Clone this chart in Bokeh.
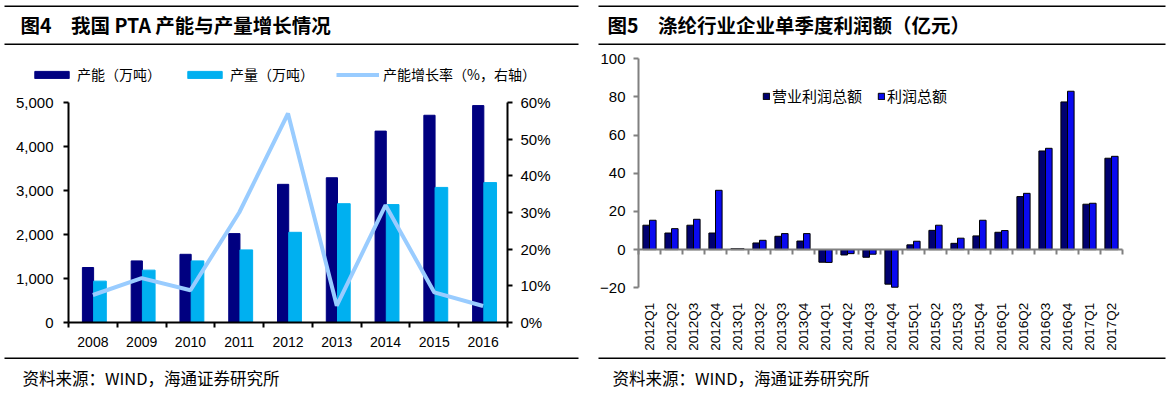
from math import pi
from bokeh.plotting import figure
from bokeh.models import (Range1d, LinearAxis, FixedTicker, NumeralTickFormatter,
                          PrintfTickFormatter, Label, BoxAnnotation, Legend, LegendItem)
from bokeh.embed import file_html
from bokeh.resources import INLINE

# ---------------- data ----------------
years = ["2008", "2009", "2010", "2011", "2012", "2013", "2014", "2015", "2016"]
capacity = [1250, 1400, 1550, 2020, 3140, 3290, 4350, 4710, 4930]        # 产能（万吨）
output = [940, 1190, 1400, 1650, 2050, 2700, 2680, 3070, 3180]            # 产量（万吨）
growth = [7.5, 12.1, 8.8, 30.0, 57.0, 4.6, 32.0, 8.2, 4.5]                # 产能增长率（%）
cap_ticks = [0, 1000, 2000, 3000, 4000, 5000]
pct_ticks = [0, 10, 20, 30, 40, 50, 60]

quarters = ["2012Q1", "2012Q2", "2012Q3", "2012Q4", "2013Q1", "2013Q2", "2013Q3", "2013Q4",
            "2014Q1", "2014Q2", "2014Q3", "2014Q4", "2015Q1", "2015Q2", "2015Q3", "2015Q4",
            "2016Q1", "2016Q2", "2016Q3", "2016Q4", "2017Q1", "2017Q2"]
op_profit = [12.8, 8.7, 12.8, 8.7, 0.5, 3.5, 7.0, 4.5, -6.6, -2.8, -4.0, -18.1,
             2.5, 10.1, 3.3, 7.2, 9.1, 27.8, 51.7, 77.4, 23.8, 47.9]      # 营业利润总额
total_profit = [15.4, 11.0, 15.9, 31.1, 0.5, 4.9, 8.4, 8.4, -6.7, -2.1, -2.4, -19.7,
                4.4, 12.8, 6.0, 15.4, 10.0, 29.5, 53.1, 83.0, 24.3, 48.9]  # 利润总额
profit_ticks = [-20, 0, 20, 40, 60, 80, 100]

CJK = "Noto Sans CJK SC"
NUM = "Liberation Sans"

# ---------------- canvas geometry (pixels, from top-left of the figure) ----------------
W, H = 1170, 392
LX0, LX1, LY_TOP, LY_BOT = 68, 507, 102, 322          # left panel plot box
RX0, RX1, RY_TOP, RY_BOT = 638, 1122, 58.3, 287.3     # right panel plot box


def span_range(lo_px, hi_px, lo_val, hi_val, total):
    per = (hi_val - lo_val) / (hi_px - lo_px)
    return Range1d(lo_val - lo_px * per, lo_val + (total - lo_px) * per)


def vspan_range(top_px, bot_px, bot_val, top_val, total):
    per = (top_val - bot_val) / (bot_px - top_px)
    return Range1d(bot_val - (total - bot_px) * per, top_val + top_px * per)


p = figure(width=W, height=H, output_backend="svg", toolbar_location=None,
           x_range=Range1d(0, W), y_range=Range1d(0, H),
           x_axis_type=None, y_axis_type=None,
           min_border_left=0, min_border_right=0, min_border_top=0, min_border_bottom=0)
p.outline_line_color = None
p.background_fill_color = "white"
p.border_fill_color = "white"

nY, nQ = len(years), len(quarters)
p.extra_x_ranges = {
    "lx": span_range(LX0, LX1, -0.5, nY - 0.5, W),
    "rx": span_range(RX0, RX1, -0.5, nQ - 0.5, W),
}
p.extra_y_ranges = {
    "ly": vspan_range(LY_TOP, LY_BOT, cap_ticks[0], cap_ticks[-1], H),
    "lpct": vspan_range(LY_TOP, LY_BOT, pct_ticks[0], pct_ticks[-1], H),
    "ry": vspan_range(RY_TOP, RY_BOT, profit_ticks[0], profit_ticks[-1], H),
}

# ---------------- left chart ----------------
xs = list(range(nY))
r_cap = p.vbar(x=[i - 0.1 for i in xs], top=capacity, width=0.23, color="#000080",
               x_range_name="lx", y_range_name="ly")
r_out = p.vbar(x=[i + 0.145 for i in xs], top=output, width=0.26, color="#00B0F0",
               x_range_name="lx", y_range_name="ly")
r_gr = p.line(x=xs, y=growth, line_color="#99CCFF", line_width=4,
              x_range_name="lx", y_range_name="lpct")

ax = LinearAxis(x_range_name="lx", y_range_name="ly", fixed_location=0, bounds=(-0.5, nY - 0.5),
                ticker=FixedTicker(ticks=xs, minor_ticks=[i - 0.5 for i in range(nY + 1)]),
                major_label_overrides={i: y for i, y in enumerate(years)})
ax.axis_line_color = "black"
ax.axis_line_width = 2
ax.major_tick_line_color = None
ax.major_tick_out = 0
ax.major_tick_in = 0
ax.minor_tick_line_color = "black"
ax.minor_tick_line_width = 2
ax.minor_tick_out = 5
ax.minor_tick_in = 0
ax.major_label_standoff = 9
ax.major_label_text_font = NUM
ax.major_label_text_font_size = "14px"
ax.major_label_text_color = "black"
p.add_layout(ax, "below")

ay = LinearAxis(x_range_name="lx", y_range_name="ly", fixed_location=-0.5,
                bounds=(cap_ticks[0], cap_ticks[-1]), ticker=FixedTicker(ticks=cap_ticks),
                formatter=NumeralTickFormatter(format="0,0"))
ay2 = LinearAxis(x_range_name="lx", y_range_name="lpct", fixed_location=nY - 0.5,
                 bounds=(pct_ticks[0], pct_ticks[-1]), ticker=FixedTicker(ticks=pct_ticks),
                 formatter=PrintfTickFormatter(format="%d%%"))
for a in (ay, ay2):
    a.axis_line_color = "black"
    a.axis_line_width = 2
    a.major_tick_line_color = "black"
    a.major_tick_line_width = 2
    a.major_tick_out = 5
    a.major_tick_in = 0
    a.minor_tick_line_color = None
    a.major_label_text_font = NUM
    a.major_label_text_font_size = "15px"
    a.major_label_text_color = "black"
ay.major_label_standoff = 10
ay2.major_label_standoff = 8
p.add_layout(ay, "left")
p.add_layout(ay2, "right")

leg1 = Legend(items=[LegendItem(label="产能（万吨）", renderers=[r_cap]),
                     LegendItem(label="产量（万吨）", renderers=[r_out]),
                     LegendItem(label="产能增长率（%，右轴）", renderers=[r_gr])],
              orientation="horizontal", location=(30, H - 84),
              glyph_width=43, glyph_height=9, label_height=9, label_standoff=4, spacing=22,
              padding=0, margin=0, border_line_color=None, background_fill_alpha=0,
              label_text_font=CJK, label_text_font_size="14px", label_text_color="black")
p.add_layout(leg1)

# ---------------- right chart ----------------
qs = list(range(nQ))
r_op = p.vbar(x=[i - 0.15 for i in qs], top=op_profit, width=0.3,
              fill_color="#000070", line_color="black", line_width=1,
              x_range_name="rx", y_range_name="ry")
r_tp = p.vbar(x=[i + 0.15 for i in qs], top=total_profit, width=0.3,
              fill_color="#0A0AF0", line_color="black", line_width=1,
              x_range_name="rx", y_range_name="ry")

bx = LinearAxis(x_range_name="rx", y_range_name="ry", fixed_location=0, bounds=(-0.5, nQ - 0.5),
                ticker=FixedTicker(ticks=qs, minor_ticks=[i - 0.5 for i in range(nQ + 1)]),
                major_label_overrides={i: q for i, q in enumerate(quarters)})
bx.axis_line_color = "#808080"
bx.axis_line_width = 2
bx.major_tick_line_color = None
bx.major_tick_out = 0
bx.major_tick_in = 0
bx.minor_tick_line_color = "#808080"
bx.minor_tick_line_width = 2
bx.minor_tick_out = 5
bx.minor_tick_in = 0
bx.major_label_orientation = pi / 2
bx.major_label_standoff = 48
bx.major_label_text_font = NUM
bx.major_label_text_font_size = "13.5px"
bx.major_label_text_color = "black"
p.add_layout(bx, "below")

ry_ax = LinearAxis(x_range_name="rx", y_range_name="ry", fixed_location=-0.5,
                   bounds=(profit_ticks[0], profit_ticks[-1]), ticker=FixedTicker(ticks=profit_ticks))
ry_ax.axis_line_color = "#808080"
ry_ax.axis_line_width = 2
ry_ax.major_tick_line_color = "#808080"
ry_ax.major_tick_line_width = 2
ry_ax.major_tick_out = 5
ry_ax.major_tick_in = 0
ry_ax.minor_tick_line_color = None
ry_ax.major_label_standoff = 8
ry_ax.major_label_text_font = NUM
ry_ax.major_label_text_font_size = "15px"
ry_ax.major_label_text_color = "black"
p.add_layout(ry_ax, "left")

leg2 = Legend(items=[LegendItem(label="营业利润总额", renderers=[r_op]),
                     LegendItem(label="利润总额", renderers=[r_tp])],
              orientation="horizontal", location=(762, H - 106),
              glyph_width=8, glyph_height=8, label_height=8, label_standoff=2, spacing=15,
              padding=0, margin=0, border_line_color=None, background_fill_alpha=0,
              label_text_font=CJK, label_text_font_size="15px", label_text_color="black")
p.add_layout(leg2)

# ---------------- headers / footers ----------------
def rule(x0, x1, y):
    p.add_layout(BoxAnnotation(left=x0, right=x1, top=H - y, bottom=H - y - 1.5,
                               left_units="screen", right_units="screen",
                               top_units="screen", bottom_units="screen",
                               fill_color="black", fill_alpha=1, line_color=None))


def text(x, y, s, size, bold=False):
    p.add_layout(Label(x=x, y=H - y, x_units="screen", y_units="screen", text=s,
                       text_font=CJK, text_font_size=size,
                       text_font_style="bold" if bold else "normal",
                       text_baseline="middle", text_color="black"))


for (x0, x1) in ((4, 578), (598, 1165)):
    for y in (5, 43, 357):
        rule(x0, x1, y)

text(20, 24, "图4　我国 PTA 产能与产量增长情况", "19.5px", True)
text(607, 24, "图5　涤纶行业企业单季度利润额（亿元）", "19.5px", True)
text(22, 377, "资料来源：WIND，海通证券研究所", "16.5px")
text(612, 377, "资料来源：WIND，海通证券研究所", "16.5px")

open("out.html", "w").write(file_html(p, INLINE))
